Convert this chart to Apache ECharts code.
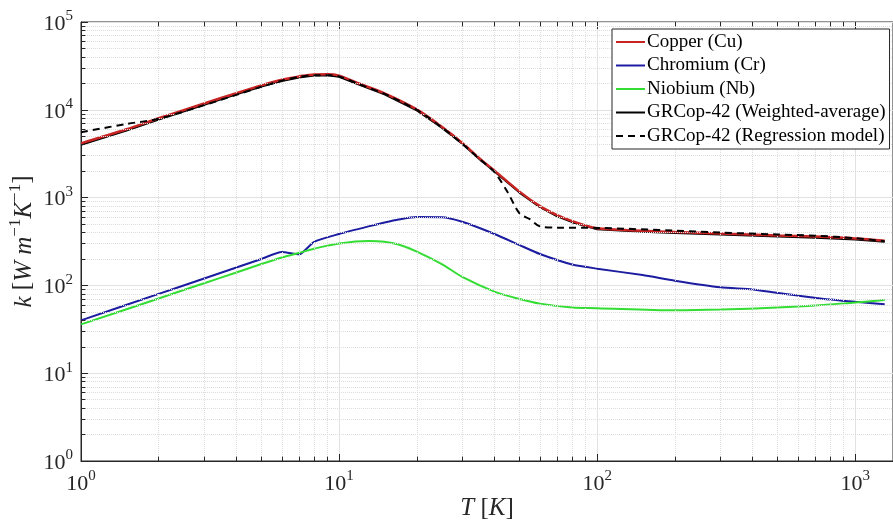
<!DOCTYPE html>
<html>
<head>
<meta charset="utf-8">
<script src="https://cdn.jsdelivr.net/npm/echarts@6/dist/echarts.min.js"></script>
<style>
  html, body { margin: 0; padding: 0; background: #fff; }
  #chart { width: 893px; height: 523px; }
</style>
</head>
<body>
<div id="chart"></div>
<script>
// temperature T [K] and conductivity k [W m^-1 K^-1]
var tCu = [1, 1.5, 2, 3, 4, 5, 6, 7, 8, 9, 10, 12, 15, 20, 25, 30, 35, 40, 50, 60, 70, 80, 100, 150, 200, 300, 500, 700, 1000, 1300];
var kCu = [4150, 6000, 8000, 11800, 15500, 19000, 22000, 24000, 25300, 25400, 24500, 19800, 15400, 10100, 6400, 4200, 2800, 2030, 1170, 800, 630, 540, 447, 420, 405, 390, 370, 360, 343, 323];

var tCr = [1, 2, 3, 4, 5, 6, 7, 8, 10, 13, 15, 17, 20, 25, 30, 40, 50, 60, 80, 100, 150, 200, 300, 400, 500, 700, 1000, 1300];
var kCr = [40, 80, 120, 160, 200, 240, 226, 314, 385, 470, 520, 562, 600, 598, 530, 385, 288, 228, 173, 155, 131, 113, 95, 90, 82, 72, 65, 61];

var tNb = [1, 2, 3, 4, 5, 6, 7, 8, 10, 13, 15, 17, 20, 25, 30, 40, 50, 60, 80, 100, 200, 300, 500, 700, 1000, 1300];
var kNb = [36, 71, 106, 140, 175, 208, 235, 262, 300, 320, 314, 292, 243, 175, 125, 85, 70, 62, 56, 55, 52, 53, 56, 59, 64, 68];

var tAvg = tCu;
var kAvg = [4000, 5800, 7750, 11400, 15000, 18400, 21300, 23300, 24600, 24700, 23800, 19300, 15000, 9850, 6250, 4100, 2740, 1980, 1140, 780, 612, 525, 435, 408, 394, 380, 360, 350, 334, 315];

var tReg = [1, 1.5, 2, 3, 4, 5, 6, 7, 8, 9, 10, 12, 15, 20, 25, 30, 35, 40, 45, 50, 55, 60, 70, 100, 200, 300, 500, 700, 1000, 1300];
var kReg = [5550, 6900, 7900, 11300, 14800, 18300, 21500, 23700, 24800, 24800, 24000, 19500, 15200, 10000, 6300, 4100, 2750, 1950, 1150, 660, 565, 470, 455, 452, 420, 400, 380, 368, 345, 318];

var seriesNames = ['Copper (Cu)', 'Chromium (Cr)', 'Niobium (Nb)', 'GRCop-42 (Weighted-average)', 'GRCop-42 (Regression model)'];

var xDecades = [1, 10, 100, 1000];
var yDecades = [1, 10, 100, 1000, 10000];
var xMin = 1, xMax = 1400, yMin = 1, yMax = 100000;

function pairs(t, k) {
  return t.map(function (v, i) { return [v, k[i]]; });
}

var minorX = [], minorY = [];
xDecades.forEach(function (d) {
  for (var m = 2; m <= 9; m++) if (d * m < xMax) minorX.push(d * m);
});
yDecades.forEach(function (d) {
  for (var m = 2; m <= 9; m++) minorY.push(d * m);
});

// minor grid + minor ticks (inside, matlab style)
var gridMarks = [];
minorX.forEach(function (v) { gridMarks.push({ xAxis: v }); });
minorY.forEach(function (v) { gridMarks.push({ yAxis: v }); });

var tickMarks = [];
minorX.forEach(function (v) {
  tickMarks.push([{ coord: [v, yMin] }, { coord: [v, yMin * 1.12] }]);
  tickMarks.push([{ coord: [v, yMax] }, { coord: [v, yMax / 1.12] }]);
});
minorY.forEach(function (v) {
  tickMarks.push([{ coord: [xMin, v] }, { coord: [xMin * 1.04, v] }]);
});

var serif = 'Liberation Serif';

function powLabel(v) {
  var e = Math.log10(v);
  if (Math.abs(e - Math.round(e)) > 1e-6) return '';
  return '{b|10}{s|' + Math.round(e) + '}';
}
var labelRich = {
  b: { fontFamily: serif, fontSize: 22, color: '#262626', verticalAlign: 'bottom', lineHeight: 26 },
  s: { fontFamily: serif, fontSize: 15, color: '#262626', verticalAlign: 'top', lineHeight: 26 }
};

var chart = echarts.init(document.getElementById('chart'));
var option = {
  animation: false,
  grid: {
    left: 81, top: 22, right: 0, bottom: 62,
    outerBoundsMode: 'none', containLabel: false,
    show: true, borderColor: '#262626', borderWidth: 1
  },
  legend: {
    data: seriesNames,
    orient: 'vertical',
    left: 612, top: 29,
    backgroundColor: '#fff',
    borderColor: '#262626', borderWidth: 1,
    padding: [3, 4, 3, 3],
    itemWidth: 29, itemHeight: 14, itemGap: 3.5,
    itemStyle: { opacity: 0 },
    textStyle: { fontFamily: serif, fontSize: 19, color: '#000', lineHeight: 20, padding: [0, 0, 0, -3] },
    z: 10
  },
  xAxis: [{
    type: 'log', logBase: 10, min: xMin, max: xMax,
    name: '{i|T} [{i|K}]',
    nameLocation: 'middle', nameGap: 35, nameMoveOverlap: false,
    nameTextStyle: {
      fontFamily: serif, fontSize: 25, color: '#262626',
      rich: { i: { fontFamily: serif, fontStyle: 'italic', fontSize: 25, color: '#262626' } }
    },
    axisLine: { show: true, lineStyle: { color: '#262626' } },
    axisTick: { inside: true, length: 7, lineStyle: { color: '#262626' } },
    axisLabel: { formatter: powLabel, rich: labelRich, margin: 8 },
    splitLine: { show: true, lineStyle: { color: '#e2e2e2', width: 1 } }
  }, {
    type: 'log', logBase: 10, min: xMin, max: xMax, position: 'top',
    axisLine: { show: false },
    axisTick: { inside: true, length: 7, lineStyle: { color: '#262626' } },
    axisLabel: { show: false },
    splitLine: { show: false }
  }],
  yAxis: {
    type: 'log', logBase: 10, min: yMin, max: yMax,
    name: '{i|k} [{i|W m}{s|−1}{i|K}{s|−1}]',
    nameLocation: 'middle', nameGap: 44, nameRotate: 90, nameMoveOverlap: false,
    nameTextStyle: {
      fontFamily: serif, fontSize: 25, color: '#262626',
      rich: {
        i: { fontFamily: serif, fontStyle: 'italic', fontSize: 25, color: '#262626', verticalAlign: 'bottom', lineHeight: 30 },
        s: { fontFamily: serif, fontSize: 17, color: '#262626', verticalAlign: 'top', lineHeight: 30 }
      }
    },
    axisLine: { show: true, lineStyle: { color: '#262626' } },
    axisTick: { inside: true, length: 7, lineStyle: { color: '#262626' } },
    axisLabel: { formatter: powLabel, rich: labelRich, margin: 8 },
    splitLine: { show: true, lineStyle: { color: '#e2e2e2', width: 1 } }
  },
  series: [
    {
      name: 'grid-minor', type: 'line', data: [], z: 0, silent: true,
      markLine: {
        silent: true, symbol: 'none', label: { show: false }, animation: false,
        lineStyle: { color: '#dddddd', type: 'dotted', width: 1 },
        data: gridMarks
      }
    },
    {
      name: 'tick-minor', type: 'line', data: [], z: 1, silent: true,
      markLine: {
        silent: true, symbol: 'none', label: { show: false }, animation: false,
        lineStyle: { color: '#262626', type: 'solid', width: 1 },
        data: tickMarks
      }
    },
    {
      name: seriesNames[3], type: 'line', data: pairs(tAvg, kAvg), z: 3,
      symbol: 'none', smooth: false,
      lineStyle: { color: '#000000', width: 2 }, itemStyle: { color: '#000000' }
    },
    {
      name: seriesNames[0], type: 'line', data: pairs(tCu, kCu), z: 4,
      symbol: 'none', smooth: 0.3,
      lineStyle: { color: '#c82424', width: 2.5 }, itemStyle: { color: '#c82424' }
    },
    {
      name: seriesNames[1], type: 'line', data: pairs(tCr, kCr), z: 4,
      symbol: 'none', smooth: 0.2,
      lineStyle: { color: '#1c1ca0', width: 2 }, itemStyle: { color: '#1c1ca0' }
    },
    {
      name: seriesNames[2], type: 'line', data: pairs(tNb, kNb), z: 4,
      symbol: 'none', smooth: 0.3,
      lineStyle: { color: '#33dd33', width: 2 }, itemStyle: { color: '#33dd33' }
    },
    {
      name: seriesNames[4], type: 'line', data: pairs(tReg, kReg), z: 5,
      symbol: 'none', smooth: 0.3,
      lineStyle: { color: '#000000', width: 2, type: [7, 5] }, itemStyle: { color: '#000000' }
    }
  ]
};
chart.setOption(option);
</script>
</body>
</html>
